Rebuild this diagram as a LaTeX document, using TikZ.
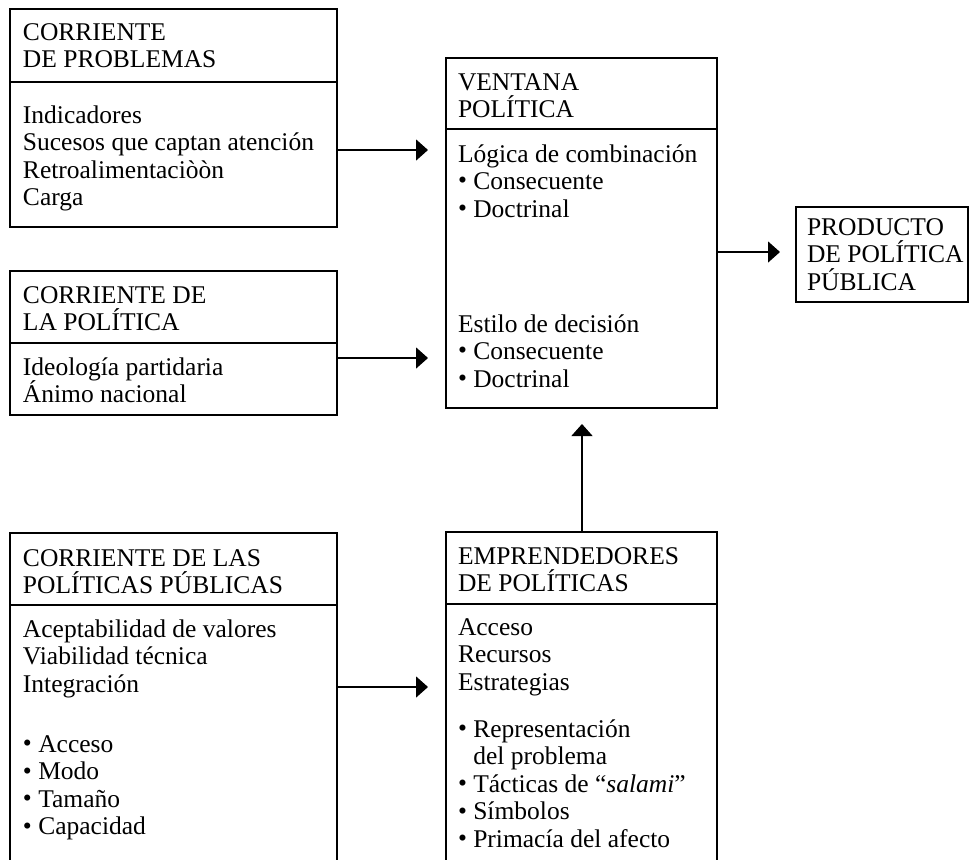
\documentclass[tikz,border=0pt]{standalone}
\usepackage{fontspec}
\setmainfont{Liberation Serif}
\usetikzlibrary{arrows.meta}
\newcommand\fl{\rule{0pt}{18pt}}
\newcommand\bu{\raisebox{0.02em}{•}\ }
\begin{document}
\begin{tikzpicture}[x=1pt,y=-1pt,
  box/.style={draw=black, line width=1.6pt, inner sep=0pt, outer sep=0pt, anchor=north west},
  txt/.style={anchor=north west, inner sep=0pt, outer sep=0pt, align=left, font=\fontsize{25.5}{27.5}\selectfont},
  arr/.style={line width=1.5pt, -{Triangle[length=12pt,width=21pt]}},
  divider/.style={line width=1.6pt}]
\useasboundingbox (0,0) rectangle (970,860);
\clip (0,0) rectangle (970,860);

% boxes
\node[box, minimum width=327pt, minimum height=218pt] (prob) at (10,9) {};
\node[box, minimum width=327pt, minimum height=144pt] (pol) at (10,271) {};
\node[box, minimum width=327pt, minimum height=400pt] (pp) at (10,533) {};
\node[box, minimum width=271pt, minimum height=350pt] (vent) at (446,58) {};
\node[box, minimum width=271pt, minimum height=400pt] (emp) at (446,532) {};
\node[box, minimum width=172pt, minimum height=95pt] (prod) at (796,207) {};

% dividers
\draw[divider] (10,82) -- (337,82);
\draw[divider] (10,343) -- (337,343);
\draw[divider] (10,605) -- (337,605);
\draw[divider] (446,129) -- (717,129);
\draw[divider] (446,604) -- (717,604);

% texts
\node[txt] (probh) at (23,22) {\fl CORRIENTE\\DE PROBLEMAS};
\node[txt] (probb) at (23,105) {\fl Indicadores\\Sucesos que captan atención\\Retroalimentaciòòn\\Carga};
\node[txt] (polh) at (23,285) {\fl CORRIENTE DE\\LA POLÍTICA};
\node[txt] (polb) at (23,357) {\fl Ideología partidaria\\Ánimo nacional};
\node[txt] (pph) at (23,548) {\fl CORRIENTE DE LAS\\POLÍTICAS PÚBLICAS};
\node[txt] (ppb) at (23,619) {\fl Aceptabilidad de valores\\Viabilidad técnica\\Integración\\[32.5pt]\bu Acceso\\\bu Modo\\\bu Tamaño\\\bu Capacidad};
\node[txt] (venth) at (458,72) {\fl VENTANA\\POLÍTICA};
\node[txt] (ventb) at (458,144) {\fl Lógica de combinación\\\bu Consecuente\\\bu Doctrinal\\[87.5pt]Estilo de decisión\\\bu Consecuente\\\bu Doctrinal};
\node[txt] (prodt) at (807,217) {\fl PRODUCTO\\DE POLÍTICA\\PÚBLICA};
\node[txt] (emph) at (458,546) {\fl EMPRENDEDORES\\DE POLÍTICAS};
\node[txt] (empb) at (458,617) {\fl Acceso\\Recursos\\Estrategias\\[19.5pt]\bu Representación\\\hphantom{\bu}del problema\\\bu Tácticas de “\textit{salami}”\\\bu Símbolos\\\bu Primacía del afecto};

% arrow end points
\coordinate (e1) at (428,150);
\coordinate (e2) at (428,358);
\coordinate (e3) at (428,687);
\coordinate (e4) at (582,424);
\coordinate (e5) at (780,252);

\draw[arr] (prob.east |- e1) -- (e1);
\draw[arr] (pol.east |- e2) -- (e2);
\draw[arr] (pp.east |- e3) -- (e3);
\draw[arr] (emp.north -| e4) -- (e4);
\draw[arr] (vent.east |- e5) -- (e5);
\end{tikzpicture}
\end{document}
